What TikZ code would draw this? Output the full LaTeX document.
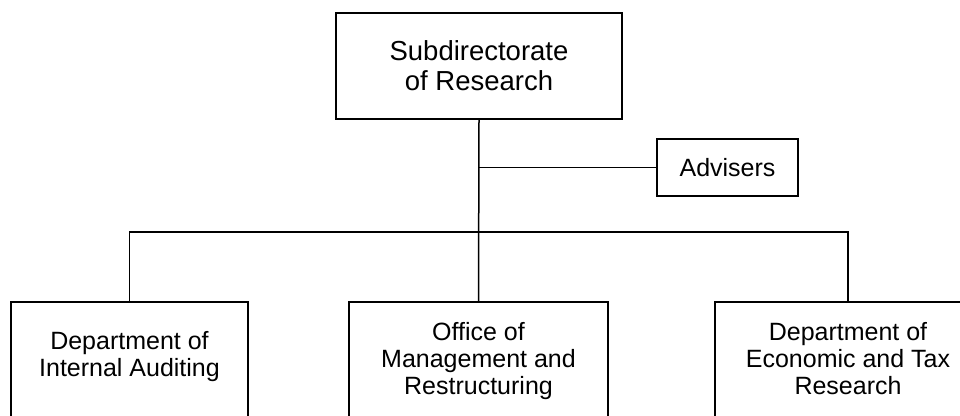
\documentclass[tikz,border=0pt]{standalone}
\usepackage{fontspec}
\setmainfont{Liberation Sans}

\begin{document}
\begin{tikzpicture}[x=1pt, y=-1pt, line width=1.5pt,
                every node/.style={font=\fontsize{25}{27}\selectfont, align=center},
                unitbox/.style={rectangle, draw=black, inner sep=0pt},
                unittext/.style={inner sep=0pt, anchor=north}]

                \useasboundingbox (0,0) rectangle (960,415);
                \clip (0,0) rectangle (960,415);

                % Define nodes
                \node[unitbox, minimum width=286pt, minimum height=106pt,
                      font=\fontsize{27.5}{30}\selectfont] (subdir) at (479,66) {Subdirectorate\\of Research}; % Head
                \node[unitbox, minimum width=141pt, minimum height=57pt] (advisers) at (727.5,167.5) {Advisers}; % Staff
                \node[unitbox, minimum width=237pt, minimum height=140pt, anchor=north] (audit) at (129.5,301) {}; % Left
                \node[unitbox, minimum width=259pt, minimum height=140pt, anchor=north] (mgmt) at (478.5,301) {}; % Middle
                \node[unitbox, minimum width=266pt, minimum height=140pt, anchor=north] (econ) at (848,301) {}; % Right

                % Box texts
                \node[unittext] (auditText) at (129.5,330.5) {Department of\\Internal Auditing};
                \node[unittext] (mgmtText) at (478.5,322) {Office of\\Management and\\Restructuring};
                \node[unittext] (econText) at (848,322) {Department of\\Economic and Tax\\Research};

                % Define edges
                \coordinate (bus) at (479,232);
                \draw (subdir.south) -- (mgmt.north);
                \draw (subdir.south |- advisers.west) -- (advisers.west);
                \draw (audit.north) |- (bus) -| (econ.north);
\end{tikzpicture}
\end{document}
